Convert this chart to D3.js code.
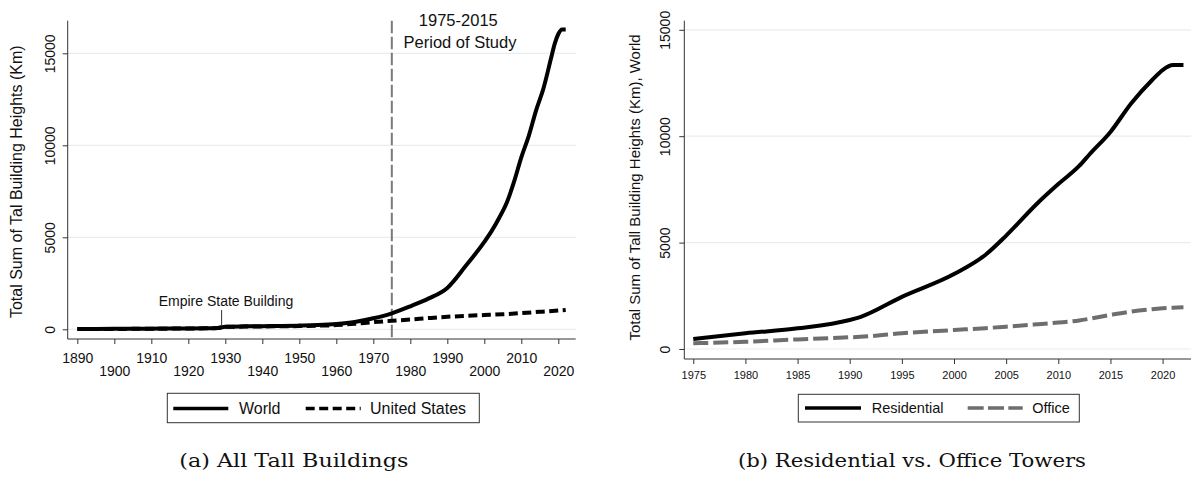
<!DOCTYPE html>
<html>
<head>
<meta charset="utf-8">
<script src="https://cdn.jsdelivr.net/npm/d3@7"></script>
<style>
  html, body { margin: 0; padding: 0; background: #fff; }
  svg { display: block; font-family: "Liberation Sans", Arial, sans-serif; }
</style>
</head>
<body>
<svg id="chart" width="1191" height="481"></svg>
<script>
// ---------- Panel (a): All tall buildings ----------
const worldYears = [1890,1895,1900,1905,1910,1915,1920,1925,1928,1930,1935,1940,1945,1950,1955,1960,1965,1970,1975,1980,1985,1990,1995,2000,2002,2004,2006,2008,2010,2012,2014,2016,2018,2019,2020,2021,2022];
const worldKm    = [15,20,25,30,35,40,50,60,75,140,160,170,180,200,230,290,400,600,870,1250,1680,2250,3450,4750,5350,6050,6850,8000,9350,10500,11900,13100,14700,15500,16050,16300,16300];
const usYears = [1890,1900,1910,1920,1925,1928,1930,1940,1950,1955,1960,1965,1970,1975,1980,1985,1990,1995,2000,2005,2010,2015,2020,2022];
const usKm    = [15,20,30,45,55,70,135,155,175,195,230,300,390,460,530,610,680,730,775,820,880,950,1020,1050];
const leftXTicks = [1890,1900,1910,1920,1930,1940,1950,1960,1970,1980,1990,2000,2010,2020];
const leftYTicks = [0,5000,10000,15000];
const studyStart = 1975;
const empireYear = 1929;

// ---------- Panel (b): Residential vs office ----------
const rightYears    = [1975,1980,1985,1990,1991,1995,2000,2003,2005,2008,2010,2012,2013,2015,2017,2019,2020,2021,2022];
const residentialKm = [470,740,970,1360,1500,2450,3520,4420,5330,6850,7750,8600,9150,10200,11550,12640,13110,13340,13340];
const officeKm      = [270,340,450,550,570,740,890,980,1050,1160,1240,1340,1420,1600,1760,1870,1910,1940,1960];
const rightXTicks = [1975,1980,1985,1990,1995,2000,2005,2010,2015,2020];
const rightYTicks = [0,5000,10000,15000];

const svg = d3.select("#chart");
const gridColor = "#e6eeef";
const axisColor = "#333";

function panel(opts) {
  const g = svg.append("g");
  const x = d3.scaleLinear().domain(opts.xDomain).range(opts.xRange);
  const y = d3.scaleLinear().domain(opts.yDomain).range(opts.yRange);
  const [x0, x1] = opts.xRange;
  const [yb, yt] = opts.yRange;

  g.append("g").selectAll("line").data(opts.yTicks).join("line")
    .attr("x1", x0).attr("x2", x1)
    .attr("y1", d => y(d)).attr("y2", d => y(d))
    .attr("stroke", gridColor).attr("stroke-width", 1.2);

  const ya = g.append("g").attr("transform", `translate(${x0},0)`)
    .call(d3.axisLeft(y).tickValues(opts.yTicks).tickSize(5).tickSizeOuter(0).tickFormat(d3.format("d")));
  ya.select(".domain").attr("stroke", axisColor).attr("d", `M0,${yb}V${yt}`);
  ya.selectAll(".tick line").attr("stroke", axisColor);
  ya.selectAll(".tick text")
    .attr("font-size", opts.yTickSize).attr("fill", "#111")
    .attr("font-family", "Liberation Sans, Arial, sans-serif")
    .attr("x", 0).attr("dy", 0)
    .attr("text-anchor", "middle")
    .attr("transform", `translate(${opts.yTickX - x0},0) rotate(-90)`);

  const xa = g.append("g").attr("transform", `translate(0,${yb})`)
    .call(d3.axisBottom(x).tickValues(opts.xTicks).tickSize(5).tickSizeOuter(0).tickFormat(d3.format("d")));
  xa.select(".domain").attr("stroke", axisColor).attr("d", `M${x0},0H${x1}`);
  xa.selectAll(".tick line").attr("stroke", axisColor);
  xa.selectAll(".tick text")
    .attr("font-size", opts.xTickSize).attr("fill", "#111")
    .attr("font-family", "Liberation Sans, Arial, sans-serif")
    .attr("dy", 0)
    .attr("y", (d, i) => opts.xTickY[i % opts.xTickY.length]);

  g.append("text")
    .attr("transform", `translate(${opts.titleX},${opts.titleY}) rotate(-90)`)
    .attr("text-anchor", "middle").attr("font-size", opts.titleSize).attr("fill", "#111")
    .text(opts.title);

  return {g, x, y};
}

// ---- Panel a
const A = panel({
  xDomain: [1887.4, 2024.7], xRange: [67.7, 575.7],
  yDomain: [-527, 16772], yRange: [339, 20.7],
  xTicks: leftXTicks, yTicks: leftYTicks,
  yTickSize: 14, xTickSize: 14,
  yTickX: 55.5, xTickY: [24, 37],
  title: "Total Sum of Tal Building Heights (Km)", titleX: 21.8, titleY: 181.7, titleSize: 16
});

A.g.append("line")
  .attr("x1", A.x(studyStart)).attr("x2", A.x(studyStart))
  .attr("y1", 20.7).attr("y2", 339)
  .attr("stroke", "#7a7a7a").attr("stroke-width", 2).attr("stroke-dasharray", "12.5,3.5");

const lineA = (ys, vs) => d3.line().curve(d3.curveMonotoneX)
  .x((d, i) => A.x(ys[i])).y(d => A.y(d))(vs);

A.g.append("path").attr("d", lineA(usYears, usKm))
  .attr("fill", "none").attr("stroke", "#000").attr("stroke-width", 4)
  .attr("stroke-dasharray", "9,4.5");
A.g.append("path").attr("d", lineA(worldYears, worldKm))
  .attr("fill", "none").attr("stroke", "#000").attr("stroke-width", 4)
  .attr("stroke-linejoin", "round");

A.g.append("text").attr("x", 458.3).attr("y", 26).attr("text-anchor", "middle")
  .attr("font-size", 16.5).attr("fill", "#111").text("1975-2015");
A.g.append("text").attr("x", 460).attr("y", 48).attr("text-anchor", "middle")
  .attr("font-size", 16.5).attr("fill", "#111").text("Period of Study");

A.g.append("line")
  .attr("x1", A.x(empireYear)).attr("x2", A.x(empireYear))
  .attr("y1", 310).attr("y2", 325).attr("stroke", "#333").attr("stroke-width", 1);
A.g.append("text").attr("x", 226).attr("y", 306).attr("text-anchor", "middle")
  .attr("font-size", 14).attr("fill", "#111").text("Empire State Building");

// legend a
const la = svg.append("g");
la.append("rect").attr("x", 167.3).attr("y", 393.3).attr("width", 312).attr("height", 29.4)
  .attr("fill", "#fff").attr("stroke", "#333").attr("stroke-width", 1);
la.append("line").attr("x1", 173.3).attr("x2", 228.3).attr("y1", 408.5).attr("y2", 408.5)
  .attr("stroke", "#000").attr("stroke-width", 3.5);
la.append("text").attr("x", 239).attr("y", 414).attr("font-size", 16).attr("fill", "#111").text("World");
la.append("line").attr("x1", 305.7).attr("x2", 360.7).attr("y1", 408.5).attr("y2", 408.5)
  .attr("stroke", "#000").attr("stroke-width", 3.5).attr("stroke-dasharray", "9,4.5");
la.append("text").attr("x", 370).attr("y", 414).attr("font-size", 16).attr("fill", "#111").text("United States");

// ---- Panel b
const B = panel({
  xDomain: [1974.14, 2022.8], xRange: [684.3, 1191.8],
  yDomain: [-470, 15427], yRange: [359, 20.7],
  xTicks: rightXTicks, yTicks: rightYTicks,
  yTickSize: 14, xTickSize: 11,
  yTickX: 670, xTickY: [20],
  title: "Total Sum of Tall Building Heights (Km), World", titleX: 639.8, titleY: 187.5, titleSize: 15
});

const lineB = (vs) => d3.line().curve(d3.curveMonotoneX)
  .x((d, i) => B.x(rightYears[i])).y(d => B.y(d))(vs);

B.g.append("path").attr("d", lineB(officeKm))
  .attr("fill", "none").attr("stroke", "#6e6e6e").attr("stroke-width", 4)
  .attr("stroke-dasharray", "15,5");
B.g.append("path").attr("d", lineB(residentialKm))
  .attr("fill", "none").attr("stroke", "#000").attr("stroke-width", 4)
  .attr("stroke-linejoin", "round");

// legend b
const lb = svg.append("g");
lb.append("rect").attr("x", 798.3).attr("y", 394.3).attr("width", 281).attr("height", 27.7)
  .attr("fill", "#fff").attr("stroke", "#333").attr("stroke-width", 1);
lb.append("line").attr("x1", 805).attr("x2", 861).attr("y1", 408).attr("y2", 408)
  .attr("stroke", "#000").attr("stroke-width", 3.5);
lb.append("text").attr("x", 871.7).attr("y", 413).attr("font-size", 14.5).attr("fill", "#111").text("Residential");
lb.append("line").attr("x1", 967.7).attr("x2", 1022.7).attr("y1", 408).attr("y2", 408)
  .attr("stroke", "#6e6e6e").attr("stroke-width", 3.5).attr("stroke-dasharray", "16,4.3");
lb.append("text").attr("x", 1032.3).attr("y", 413).attr("font-size", 14.5).attr("fill", "#111").text("Office");

// captions
svg.append("text").attr("x", 293.8).attr("y", 466.5).attr("text-anchor", "middle")
  .attr("font-family", "DejaVu Serif, Liberation Serif, serif").attr("font-size", 18.5)
  .attr("textLength", 229).attr("lengthAdjust", "spacingAndGlyphs").attr("fill", "#111")
  .text("(a) All Tall Buildings");
svg.append("text").attr("x", 912).attr("y", 466.5).attr("text-anchor", "middle")
  .attr("font-family", "DejaVu Serif, Liberation Serif, serif").attr("font-size", 18.5)
  .attr("textLength", 348).attr("lengthAdjust", "spacingAndGlyphs").attr("fill", "#111")
  .text("(b) Residential vs. Office Towers");
</script>
</body>
</html>
